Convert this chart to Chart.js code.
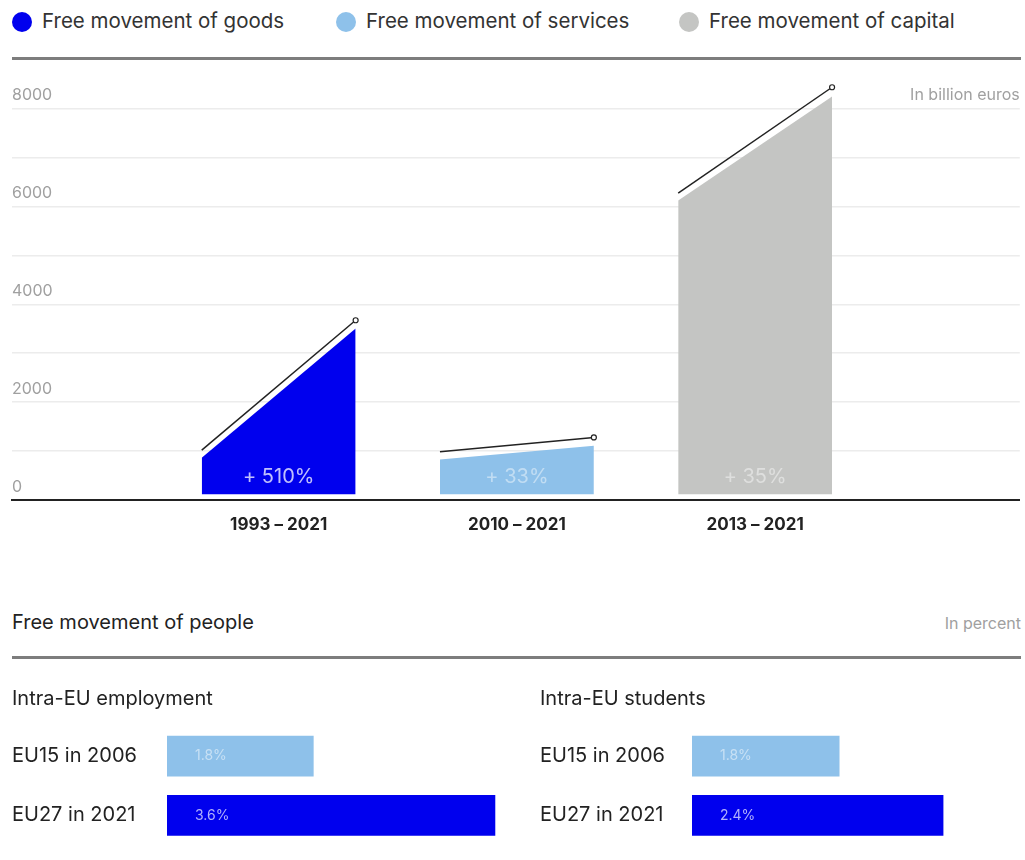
<!DOCTYPE html>
<html lang="en">
<head>
    <meta charset="UTF-8">
    <title>Free movement in the EU</title>
    <script src="https://cdn.jsdelivr.net/npm/chart.js"></script>
    <style>
        body { margin: 0; width: 1025px; height: 860px; position: relative; background: #fff; font-family: Inter, "Noto Sans", sans-serif; color: #222; }
        .abs { position: absolute; }
        .legend-item { position: absolute; top: 9px; font-size: 20.5px; line-height: 24px; color: #333; white-space: nowrap; }
        .legend-item span { display: inline-block; width: 20px; height: 20px; border-radius: 50%; vertical-align: -4px; margin-right: 10px; }
        .rule { position: absolute; left: 12px; width: 1009px; height: 3px; background: #7d7d7d; }
        .unit { position: absolute; right: 4px; font-size: 16px; color: #a0a0a0; }
    </style>
</head>
<body>
    <div class="legend-item" style="left:12px"><span style="background:#0000ee"></span>Free movement of goods</div>
    <div class="legend-item" style="left:336px"><span style="background:#8ec1ea"></span>Free movement of services</div>
    <div class="legend-item" style="left:679px"><span style="background:#c4c5c3"></span>Free movement of capital</div>
    <div class="rule" style="top:57px"></div>

    <canvas id="flowChart" class="abs" style="left:0;top:50px;width:1025px;height:500px"></canvas>

    <div class="abs" style="left:12px;top:610px;font-size:20px;line-height:24px">Free movement of people</div>
    <div class="unit" style="top:613px">In percent</div>
    <div class="rule" style="top:656px"></div>

    <canvas id="employmentChart" class="abs" style="left:0;top:682px;width:500px;height:175px"></canvas>
    <canvas id="studentsChart" class="abs" style="left:528px;top:682px;width:497px;height:175px"></canvas>

    <script>
        // top chart: billion euros, start and end of each period
        const periods = ['1993 – 2021', '2010 – 2021', '2013 – 2021'];
        const changes = ['+ 510%', '+ 33%', '+ 35%'];
        const seriesNames = ['Free movement of goods', 'Free movement of services', 'Free movement of capital'];
        const areaStart = [864, 830, 6120];
        const areaEnd = [3503, 1109, 8245];
        const trendStart = [1020, 986, 6272];
        const trendEnd = [3673, 1279, 8435];

        // bottom charts: percent
        const peopleGroups = ['EU15 in 2006', 'EU27 in 2021'];
        const employmentShare = [1.8, 3.6];
        const studentShare = [1.8, 2.4];

        const BLUE = '#0000ee', LIGHT = '#8ec1ea', GREY = '#c4c5c3';
        const areaColors = [BLUE, LIGHT, GREY];
        const changeColors = ['rgba(225,225,255,0.85)', 'rgba(255,255,255,0.45)', 'rgba(255,255,255,0.45)'];
        const HALF = 0.323; // half width of each block on the x scale
        const Y_TOP = 9000;

        Chart.defaults.font.family = 'Inter, "Noto Sans", sans-serif';
        Chart.defaults.animation = false;

        let datasets = [];
        periods.forEach((p, i) => {
            datasets.push({
                label: seriesNames[i],
                data: [{x: i - HALF, y: areaStart[i]}, {x: i + HALF, y: areaEnd[i]}],
                backgroundColor: areaColors[i],
                borderWidth: 0,
                pointRadius: 0,
                fill: {value: 120},
                order: 2
            });
            datasets.push({
                label: seriesNames[i] + ' trend',
                data: [{x: i - HALF, y: trendStart[i]}, {x: i + HALF, y: trendEnd[i]}],
                borderColor: '#222',
                borderWidth: 1.5,
                pointRadius: [0, 2.5],
                pointBackgroundColor: '#fff',
                pointBorderColor: '#222',
                pointBorderWidth: 1.2,
                fill: false,
                clip: false,
                order: 1
            });
        });

        const flowLabels = {
            id: 'flowLabels',
            afterDatasetsDraw(chart) {
                const ctx = chart.ctx, xs = chart.scales.x, ys = chart.scales.y, area = chart.chartArea;
                ctx.save();
                ctx.textAlign = 'center';
                ctx.textBaseline = 'middle';
                ctx.font = '20px Inter, sans-serif';
                changes.forEach((c, i) => {
                    ctx.fillStyle = changeColors[i];
                    ctx.fillText(c, xs.getPixelForValue(i), area.bottom - 23);
                });
                ctx.textAlign = 'right';
                ctx.font = '16px Inter, sans-serif';
                ctx.fillStyle = '#a0a0a0';
                ctx.fillText('In billion euros', area.right, ys.getPixelForValue(8000) - 13);
                ctx.restore();
            }
        };

        new Chart(document.getElementById('flowChart'), {
            type: 'line',
            data: { datasets: datasets },
            options: {
                responsive: false,
                layout: { padding: { top: 9, left: 12, right: 4, bottom: 0 } },
                plugins: { legend: { display: false }, tooltip: { enabled: false } },
                elements: { line: { tension: 0 } },
                scales: {
                    x: {
                        type: 'linear',
                        min: -1.1195,
                        max: 3.111,
                        afterFit: s => { s.height = 50; },
                        afterBuildTicks: s => { s.ticks = periods.map((p, i) => ({value: i})); },
                        ticks: {
                            callback: v => periods[v],
                            font: { size: 17, weight: 'bold' },
                            color: '#222',
                            padding: 7,
                            maxRotation: 0
                        },
                        grid: { display: false },
                        border: { display: true, color: '#222', width: 2 }
                    },
                    y: {
                        min: 0,
                        max: Y_TOP,
                        afterFit: s => { s.width = 0; },
                        ticks: {
                            stepSize: 1000,
                            mirror: true,
                            padding: 0,
                            labelOffset: -13,
                            color: '#a0a0a0',
                            font: { size: 16 },
                            callback: v => (v % 2000 === 0 && v < Y_TOP) ? v : ''
                        },
                        grid: {
                            color: c => (c.tick && c.tick.value >= Y_TOP) ? 'rgba(0,0,0,0)' : '#ececec',
                            lineWidth: 1.5,
                            drawTicks: false
                        },
                        border: { display: false }
                    }
                }
            },
            plugins: [flowLabels]
        });

        const barLabels = {
            id: 'barLabels',
            afterDatasetsDraw(chart) {
                const ctx = chart.ctx;
                const ds = chart.data.datasets[0];
                ctx.save();
                ctx.font = '14px Inter, sans-serif';
                ctx.textBaseline = 'middle';
                chart.getDatasetMeta(0).data.forEach((bar, j) => {
                    ctx.fillStyle = j === 0 ? 'rgba(255,255,255,0.5)' : 'rgba(220,220,255,0.8)';
                    ctx.fillText(ds.data[j].toFixed(1) + '%', chart.chartArea.left + 28, bar.y);
                });
                ctx.restore();
            }
        };

        function peopleChart(id, title, values, min, max, axisWidth, padRight) {
            new Chart(document.getElementById(id), {
                type: 'bar',
                data: {
                    labels: peopleGroups,
                    datasets: [{ label: title, data: values, backgroundColor: [LIGHT, BLUE], barThickness: 40 }]
                },
                options: {
                    responsive: false,
                    indexAxis: 'y',
                    layout: { padding: { left: 12, right: padRight, top: 0, bottom: 5.5 } },
                    plugins: {
                        legend: { display: false },
                        tooltip: { enabled: false },
                        title: {
                            display: true,
                            text: title,
                            align: 'start',
                            color: '#222',
                            font: { size: 20, weight: 'normal' },
                            padding: { top: 5, bottom: 15.5 }
                        }
                    },
                    scales: {
                        x: { display: false, min: min, max: max },
                        y: {
                            afterFit: s => { s.width = axisWidth; },
                            ticks: { crossAlign: 'far', padding: 0, color: '#222', font: { size: 20 } },
                            grid: { display: false },
                            border: { display: false }
                        }
                    }
                },
                plugins: [barLabels]
            });
        }

        peopleChart('employmentChart', 'Intra-EU employment', employmentShare, 0.35, 3.65, 155, 0);
        peopleChart('studentsChart', 'Intra-EU students', studentShare, 0.95, 2.85, 152, 4);
    </script>
</body>
</html>
